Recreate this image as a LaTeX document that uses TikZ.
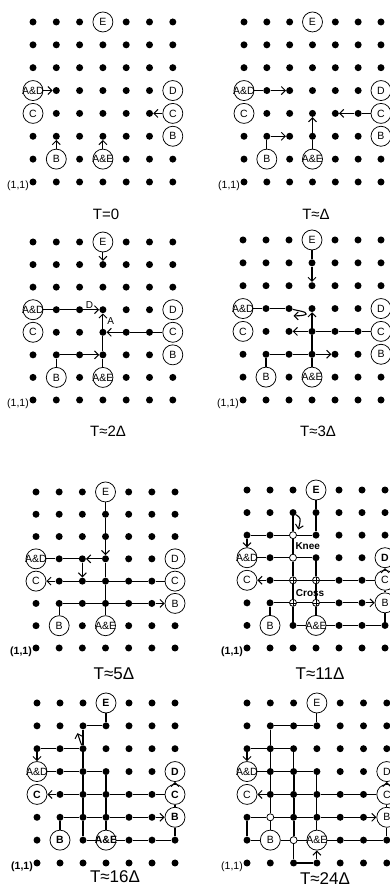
\documentclass[tikz,border=0pt]{standalone}
\usepackage{fontspec}
\setmainfont{Liberation Sans}
\usetikzlibrary{arrows.meta}
\newcommand\lb[1]{\makebox[0pt]{#1}}
\tikzset{
  gdot/.style={circle,fill=black,inner sep=0pt,minimum size=7pt},
  lbl/.style={circle,draw,line width=0.75pt,fill=white,inner sep=0pt,minimum size=20pt,font=\fontsize{10.5}{11}\selectfont},
  boldlbl/.style={font=\fontsize{10.5}{11}\selectfont\bfseries},
  sE/.style={},sD/.style={},sAD/.style={},sCl/.style={},sCr/.style={},sBl/.style={},sBr/.style={},sAE/.style={},
  opendot/.style={circle,draw,line width=0.75pt,fill=white,inner sep=0pt,minimum size=7pt},
  xdot/.style={opendot,path picture={\draw[line width=0.6pt] (path picture bounding box.west) -- (path picture bounding box.east) (path picture bounding box.north) -- (path picture bounding box.south);}},
  lnk/.style={line width=1.1pt},
  hv/.style={line width=2pt},
  arw/.style={lnk,-{Straight Barb[length=4pt,width=8pt,line width=1pt]}},
  ttl/.style={font=\fontsize{15}{16}\selectfont,inner sep=0pt},
  bigttl/.style={font=\fontsize{17}{18}\selectfont,inner sep=0pt},
  orig/.style={font=\fontsize{10.5}{11}\selectfont,inner sep=0pt,anchor=east},
  boldorig/.style={orig,font=\fontsize{10.5}{11}\selectfont\bfseries},
  txt/.style={font=\fontsize{10}{10}\selectfont,inner sep=0pt},
  boldtxt/.style={font=\fontsize{10}{10}\selectfont\bfseries,inner sep=0pt},
}
\newcommand\basegrid[1]{%
  \foreach \i in {1,...,7}{\foreach \j in {1,...,8}{\node[gdot] (d-\i-\j) at (\i,\j) {};}}
  \node[lbl,sE] (E) at (4,8) {\lb{E}};
  \node[lbl,sAD] (AD) at (1,5) {\lb{A\&D}};
  \node[lbl,sD] (D) at (7,5) {\lb{D}};
  \node[lbl,sCl] (Cl) at (1,4) {\lb{C}};
  \node[lbl,sCr] (Cr) at (7,4) {\lb{C}};
  \node[lbl,sBr] (Br) at (7,3) {\lb{B}};
  \node[lbl,sBl] (Bl) at (2,2) {\lb{B}};
  \node[lbl,sAE] (AE) at (4,2) {\lb{A\&E}};
  \node[#1] (c11) at ([xshift=-4pt,yshift=-4pt]d-1-1.center) {(1,1)};
}
\begin{document}
\begin{tikzpicture}
\useasboundingbox (0,0) rectangle (390pt,890pt);
% ---------- Panel 1: T=0
\begin{scope}[shift={(9.7pt,685.14pt)},x=23.3pt,y=22.86pt,name prefix=p1-]
\basegrid{orig}
\draw[arw] (AD) -- (d-2-5);
\draw[arw] (Cr) -- (d-6-4);
\draw[arw] (Bl) -- (d-2-3);
\draw[arw] (AE) -- (d-4-3);
\end{scope}
% ---------- Panel 2: T~Delta
\begin{scope}[shift={(221.17pt,685.14pt)},x=22.83pt,y=22.86pt,name prefix=p2-]
\basegrid{orig}
\draw[lnk] (AD) -- (d-2-5); \draw[arw] (d-2-5) -- (d-3-5);
\draw[lnk] (Cr) -- (d-6-4); \draw[arw] (d-6-4) -- (d-5-4);
\draw[lnk] (Bl) -- (d-2-3); \draw[arw] (d-2-3) -- (d-3-3);
\draw[lnk] (AE) -- (d-4-3); \draw[arw] (d-4-3) -- (d-4-4);
\end{scope}
% ---------- Panel 3: T~2Delta
\begin{scope}[shift={(9.7pt,467.43pt)},x=23.3pt,y=22.57pt,name prefix=p3-]
\basegrid{orig}
\draw[arw] (E) -- (d-4-7);
\draw[lnk] (AD) -- (d-2-5) -- (d-3-5); \draw[arw] (d-3-5) -- (d-4-5);
\draw[lnk] (AE) -- (d-4-3) -- (d-4-4); \draw[arw] (d-4-4) -- (d-4-5);
\draw[lnk] (Cr) -- (d-6-4) -- (d-5-4); \draw[arw] (d-5-4) -- (d-4-4);
\draw[lnk] (Bl) -- (d-2-3) -- (d-3-3); \draw[arw] (d-3-3) -- (d-4-3);
\node[txt,anchor=south] (tD) at (3.42,5.06) {D};
\node[txt] (tA) at (4.33,4.48) {A};
\end{scope}
% ---------- Panel 4: T~3Delta
\begin{scope}[shift={(220pt,467.14pt)},x=23pt,y=22.86pt,name prefix=p4-]
\basegrid{orig}
\draw[lnk] (E) -- (d-4-7); \draw[arw] (d-4-7) -- (d-4-6);
\draw[lnk] (AD) -- (d-2-5) -- (d-3-5);
\draw[arw] (d-3-5) -- (3.45,4.9) .. controls (3.9,4.82) and (3.85,4.68) .. (3.2,4.68);
\draw[lnk] (AE) -- (d-4-3) -- (d-4-4); \draw[arw] (d-4-4) -- (d-4-5);
\draw[lnk] (Cr) -- (d-6-4) -- (d-5-4) -- (d-4-4); \draw[arw] (d-4-4) -- (d-3-4);
\draw[lnk] (Bl) -- (d-2-3) -- (d-3-3) -- (d-4-3); \draw[arw] (d-4-3) -- (d-5-3);
\end{scope}
% ---------- Panel 5: T~5Delta
\begin{scope}[shift={(12.83pt,219.71pt)},x=23.17pt,y=22.29pt,name prefix=p5-]
\basegrid{boldorig}
\draw[lnk] (E) -- (d-4-7) -- (d-4-6); \draw[arw] (d-4-6) -- (d-4-5);
\draw[lnk] (AD) -- (d-2-5) -- (d-3-5); \draw[arw] (d-4-5) -- (d-3-5);
\draw[arw] (d-3-5) -- (d-3-4);
\draw[lnk] (d-4-5) -- (d-4-4) -- (d-4-3) -- (AE);
\draw[arw] (d-2-4) -- (Cl);
\draw[lnk] (d-2-4) -- (d-3-4) -- (d-4-4) -- (d-5-4) -- (d-6-4) -- (Cr);
\draw[lnk] (Bl) -- (d-2-3) -- (d-3-3) -- (d-4-3) -- (d-5-3) -- (d-6-3); \draw[arw] (d-6-3) -- (Br);
\end{scope}
% ---------- Panel 6: T~11Delta
\begin{scope}[shift={(224pt,219.43pt)},x=23pt,y=22.57pt,name prefix=p6-,sE/.style={boldlbl},sD/.style={boldlbl}]
\basegrid{boldorig}
\node[opendot] (o-3-6) at (3,6) {};
\node[opendot] (o-3-5) at (3,5) {};
\node[xdot] (x-3-4) at (3,4) {};
\node[xdot] (x-4-4) at (4,4) {};
\node[xdot] (x-3-3) at (3,3) {};
\node[xdot] (x-4-3) at (4,3) {};
\draw[lnk] (E) -- (d-4-7) -- (d-4-6) -- (o-3-6) -- (d-2-6) -- (d-1-6); \draw[arw] (d-1-6) -- (AD);
\draw[lnk] (d-3-7) -- (o-3-6) -- (o-3-5);
\draw[arw] (d-3-7) .. controls (3.35,6.75) .. (3.23,6.25);
\draw[lnk] (AD) -- (d-2-5) -- (o-3-5) -- (d-4-5) -- (x-4-4) -- (x-4-3) -- (AE);
\draw[hv] (o-3-5) -- (x-3-4) -- (x-3-3) -- (d-3-2);
\draw[lnk] (d-3-2) -- (AE) -- (d-5-2) -- (d-6-2) -- (d-7-2) -- (Br) -- (Cr); \draw[arw] (Cr) -- (D);
\draw[arw] (d-2-4) -- (Cl);
\draw[lnk] (d-2-4) -- (x-3-4) -- (x-4-4) -- (d-5-4) -- (d-6-4) -- (Cr);
\draw[lnk] (Bl) -- (d-2-3) -- (x-3-3) -- (x-4-3) -- (d-5-3) -- (d-6-3); \draw[arw] (d-6-3) -- (Br);
\node[boldtxt,anchor=west] (knee) at (3.1,5.5) {Knee};
\node[boldtxt,anchor=west] (cross) at (3.12,3.43) {Cross};
\end{scope}
% ---------- Panel 7: T~16Delta
\begin{scope}[shift={(14pt,4.14pt)},x=23pt,y=22.86pt,name prefix=p7-,sE/.style={boldlbl},sD/.style={boldlbl},sCl/.style={boldlbl},sCr/.style={boldlbl},sBl/.style={boldlbl},sBr/.style={boldlbl},sAE/.style={boldlbl}]
\basegrid{boldorig}
\draw[lnk] (E) -- (d-4-7) -- (d-3-7) -- (d-3-6) -- (d-2-6) -- (d-1-6); \draw[arw] (d-1-6) -- (AD);
\draw[arw] (d-3-6) .. controls (2.86,6.35) .. (2.76,6.68);
\draw[lnk] (AD) -- (d-2-5) -- (d-3-5) -- (d-4-5) -- (d-4-4) -- (d-4-3) -- (AE);
\draw[lnk] (d-3-6) -- (d-3-5); \draw[hv] (d-3-5) -- (d-3-4) -- (d-3-3) -- (d-3-2);
\draw[lnk] (d-3-2) -- (AE) -- (d-5-2) -- (d-6-2) -- (d-7-2) -- (Br) -- (Cr); \draw[arw] (Cr) -- (D);
\draw[arw] (d-2-4) -- (Cl);
\draw[lnk] (d-2-4) -- (d-3-4) -- (d-4-4) -- (d-5-4) -- (d-6-4) -- (Cr);
\draw[lnk] (Bl) -- (d-2-3) -- (d-3-3) -- (d-4-3) -- (d-5-3) -- (d-6-3); \draw[arw] (d-6-3) -- (Br);
\end{scope}
% ---------- Panel 8: T~24Delta
\begin{scope}[shift={(223.7pt,4.14pt)},x=23.3pt,y=22.86pt,name prefix=p8-]
\basegrid{orig}
\node[opendot] (o-2-3) at (2,3) {};
\node[opendot] (o-3-2) at (3,2) {};
\draw[lnk] (E) -- (d-4-7) -- (d-3-7) -- (d-2-7) -- (d-2-6) -- (d-2-5) -- (d-2-4) -- (o-2-3) -- (Bl);
\draw[lnk] (d-1-6) -- (d-2-6) -- (d-3-6) -- (d-3-5); \draw[arw] (d-1-6) -- (AD);
\draw[hv] (d-3-5) -- (d-3-4) -- (d-3-3) -- (o-3-2);
\draw[lnk] (o-3-2) -- (d-3-1) -- (d-4-1); \draw[arw] (d-4-1) -- (AE);
\draw[lnk] (AD) -- (d-2-5) -- (d-3-5) -- (d-4-5) -- (d-4-4) -- (d-4-3) -- (AE);
\draw[arw] (d-2-4) -- (Cl);
\draw[lnk] (d-2-4) -- (d-3-4) -- (d-4-4) -- (d-5-4) -- (d-6-4) -- (Cr); \draw[arw] (Cr) -- (D);
\draw[lnk] (d-1-2) -- (d-1-3) -- (o-2-3) -- (d-3-3) -- (d-4-3) -- (d-5-3) -- (d-6-3); \draw[arw] (d-6-3) -- (Br);
\draw[lnk] (d-1-2) -- (Bl) -- (o-3-2) -- (AE) -- (d-5-2) -- (d-6-2) -- (d-7-2) -- (Br) -- (Cr);
\end{scope}
% ---------- Titles
\node[ttl] (t1) at (106pt,676pt) {T=0};
\node[ttl] (t2) at (316pt,676pt) {T≈Δ};
\node[ttl] (t3) at (108pt,459pt) {T≈2Δ};
\node[ttl] (t4) at (318pt,459pt) {T≈3Δ};
\node[bigttl] (t5) at (114pt,216pt) {T≈5Δ};
\node[bigttl] (t6) at (320pt,216pt) {T≈11Δ};
\node[bigttl] (t7) at (115pt,13pt) {T≈16Δ};
\node[bigttl] (t8) at (325pt,11pt) {T≈24Δ};
\end{tikzpicture}
\end{document}
